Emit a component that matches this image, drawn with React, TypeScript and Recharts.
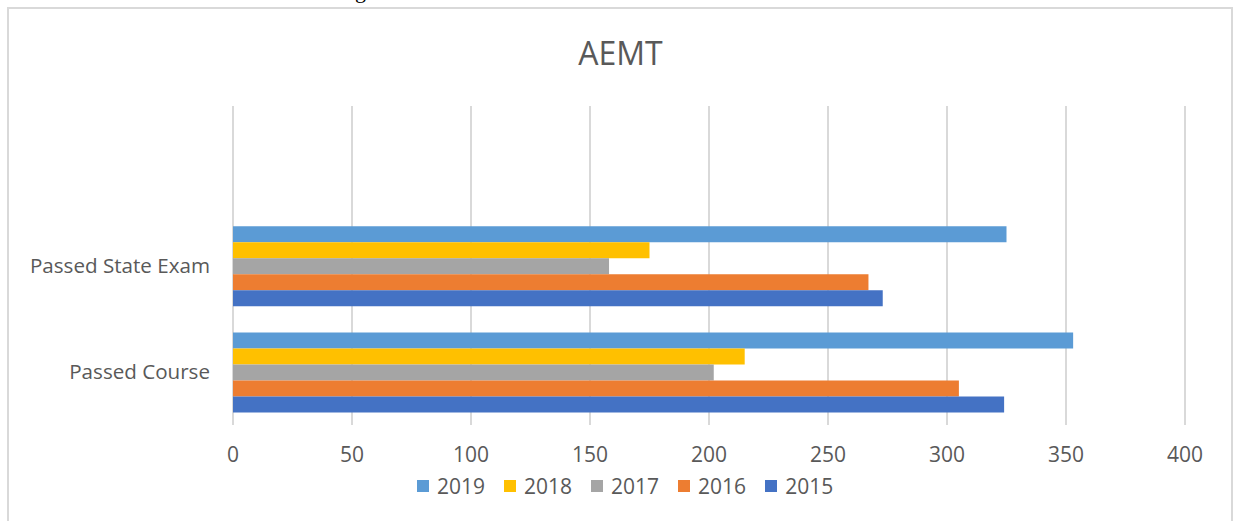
import { Bar, BarChart, CartesianGrid, XAxis, YAxis } from 'recharts';

// Excel draws the first category at the bottom; the top band is an empty category
const categories = ['', 'Passed State Exam', 'Passed Course'];
const years = ['2019', '2018', '2017', '2016', '2015'];
const colors = ['#5B9BD5', '#FFC000', '#A5A5A5', '#ED7D31', '#4472C4'];

const v2019 = [null, 325, 353];
const v2018 = [null, 175, 215];
const v2017 = [null, 158, 202];
const v2016 = [null, 267, 305];
const v2015 = [null, 273, 324];

const xTicks = [0, 50, 100, 150, 200, 250, 300, 350, 400];

const seriesValues = [v2019, v2018, v2017, v2016, v2015];

const data = categories.map((cat, i) => {
  const row: Record<string, string | number | null> = { cat };
  years.forEach((y, j) => {
    row[y] = seriesValues[j][i];
  });
  return row;
});

const font = '"Open Sans", sans-serif';
const grey = '#595959';

export default function App() {
  return (
    <div style={{ position: 'absolute', left: 0, top: 0, width: 1237, height: 521, overflow: 'hidden', background: '#fff' }}>
      <div style={{ position: 'absolute', left: 355, top: -22, fontFamily: 'serif', fontSize: 22, color: '#000' }}>g</div>
      <div
        style={{
          position: 'absolute',
          left: 7,
          top: 7,
          width: 1222,
          height: 540,
          border: '2px solid #D9D9D9',
        }}
      />
      <div
        style={{
          position: 'absolute',
          left: 0,
          width: 1237,
          top: 31,
          textAlign: 'center',
          fontFamily: font,
          fontSize: 32,
          color: grey,
          paddingLeft: 2,
        }}
      >
        AEMT
      </div>
      <div style={{ position: 'absolute', left: 0, top: 0 }}>
        <BarChart
          width={1237}
          height={521}
          data={data}
          layout="vertical"
          margin={{ top: 106, right: 52, left: 0, bottom: 0 }}
          barCategoryGap="13%"
          barGap={0}
        >
          <CartesianGrid horizontal={false} stroke="#D9D9D9" strokeWidth={2} />
          <XAxis
            type="number"
            domain={[0, 400]}
            ticks={xTicks}
            axisLine={false}
            tickLine={false}
            tickMargin={16}
            height={96}
            interval={0}
            tick={{ fill: grey, fontSize: 21, fontFamily: font }}
          />
          <YAxis
            type="category"
            dataKey="cat"
            width={233}
            axisLine={false}
            tickLine={false}
            tickMargin={17}
            tick={{ fill: grey, fontSize: 20.6, fontFamily: font }}
          />
          {years.map((y, j) => (
            <Bar key={y} dataKey={y} fill={colors[j]} isAnimationActive={false} />
          ))}
        </BarChart>
      </div>
      <div
        style={{
          position: 'absolute',
          left: 417,
          top: 472,
          display: 'flex',
          alignItems: 'center',
          fontFamily: font,
          fontSize: 21,
          color: grey,
        }}
      >
        {years.map((y, j) => (
          <div key={y} style={{ display: 'flex', alignItems: 'center', marginRight: 19 }}>
            <span style={{ width: 12, height: 12, background: colors[j], display: 'inline-block', marginRight: 8 }} />
            <span>{y}</span>
          </div>
        ))}
      </div>
    </div>
  );
}
